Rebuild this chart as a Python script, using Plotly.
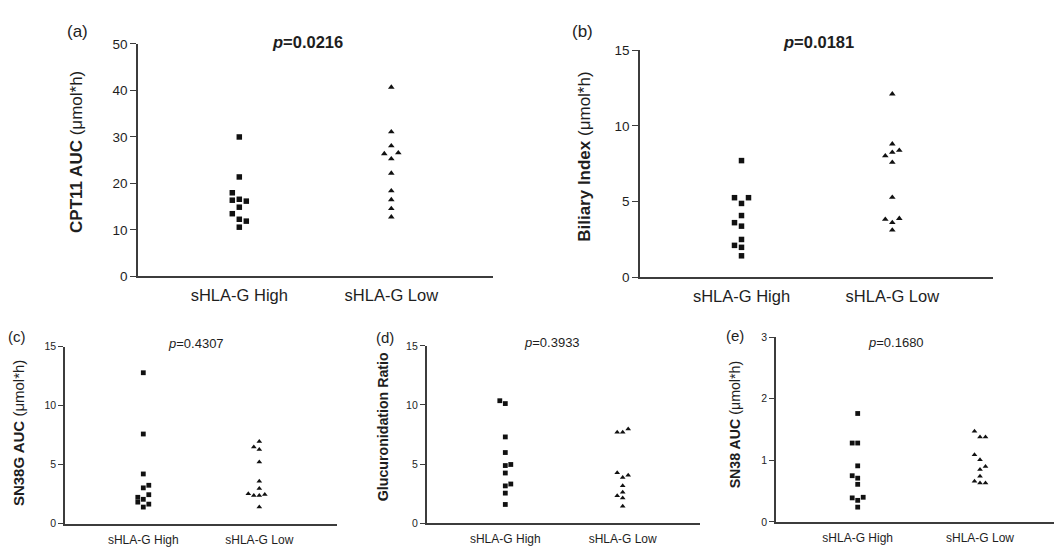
import plotly.graph_objects as go

W, H = 1054, 552
FONT = "Liberation Sans, Arial, sans-serif"
TXT = "#1e1e1e"
AX = "#3c3c3c"

categories = ["sHLA-G High", "sHLA-G Low"]

# ---- data; *_slot = horizontal scatter slot used by the original dot plot
a_high = [30.0, 21.4, 18.0, 16.6, 16.4, 16.2, 14.9, 13.5, 12.3, 11.9, 10.6]
a_high_slot = [0, 0, -1, 0, -1, 1, 0, -1, 0, 1, 0]
a_low = [40.7, 31.1, 28.1, 26.6, 26.4, 25.3, 22.2, 18.4, 16.5, 14.6, 12.8]
a_low_slot = [0, 0, 0, 1, -1, 0, 0, 0, 0, 0, 0]

b_high = [7.7, 5.25, 5.25, 4.87, 4.07, 3.6, 3.37, 2.49, 2.1, 1.97, 1.41]
b_high_slot = [0, -1, 1, 0, 0, -1, 0, 0, -1, 0, 0]
b_low = [12.1, 8.8, 8.38, 8.25, 8.01, 7.58, 5.27, 3.88, 3.82, 3.6, 3.11]
b_low_slot = [0, 0, 1, 0, -1, 0, 0, 1, -1, 0, 0]

c_high = [12.8, 7.6, 4.21, 3.25, 3.03, 2.45, 2.23, 2.06, 1.82, 1.65, 1.40]
c_high_slot = [0, 0, 0, 1, 0, 1, -1, 0, -1, 1, 0]
c_low = [6.96, 6.5, 6.28, 5.23, 3.6, 2.97, 2.53, 2.47, 2.39, 2.39, 1.40]
c_low_slot = [0, -1, 0, 0, 0, 0, -2, 1, -1, 0, 0]

d_high = [10.36, 10.12, 7.3, 5.98, 4.97, 4.88, 4.25, 3.32, 3.16, 2.55, 1.59]
d_high_slot = [-1, 0, 0, 0, 1, 0, 0, 1, 0, 0, 0]
d_low = [7.98, 7.7, 7.7, 4.28, 4.06, 3.87, 3.18, 2.63, 2.33, 2.14, 1.43]
d_low_slot = [1, -1, 0, -1, 1, 0, 0, 0, -1, 0, 0]

e_high = [1.76, 1.28, 1.28, 0.91, 0.75, 0.71, 0.61, 0.40, 0.39, 0.35, 0.24]
e_high_slot = [0, -1, 0, 0, -1, 0, 0, 1, -1, 0, 0]
e_low = [1.47, 1.38, 1.38, 1.09, 1.01, 0.90, 0.85, 0.74, 0.66, 0.63, 0.63]
e_low_slot = [-1, 0, 1, -1, 0, 1, 0, 0, -1, 0, 1]

y_titles = ["<b>CPT11 AUC</b> (\u03bcmol*h)", "<b>Biliary Index</b> (\u03bcmol*h)",
            "<b>SN38G AUC</b> (\u03bcmol*h)", "<b>Glucuronidation Ratio</b>",
            "<b>SN38 AUC</b> (\u03bcmol*h)"]
p_values = ["0.0216", "0.0181", "0.4307", "0.3933", "0.1680"]
letters = ["(a)", "(b)", "(c)", "(d)", "(e)"]
y_ticks = [[0, 10, 20, 30, 40, 50], [0, 5, 10, 15], [0, 5, 10, 15], [0, 5, 10, 15], [0, 1, 2, 3]]
y_max = [50, 15, 15, 15, 3]

# ---- layout geometry (pixels in the 1054x552 page)
panels = [
    dict(x0=138, x1=493, yt=38, yb=277, ph=239.3, pl=391.3, slot=7.0, big=True,
         data=(a_high, a_high_slot, a_low, a_low_slot),
         ytit=(77, 149, 17), pv=(307, 36), let=(77, 25)),
    dict(x0=640, x1=993, yt=44.3, yb=277.7, ph=741.5, pl=892.3, slot=7.0, big=True,
         data=(b_high, b_high_slot, b_low, b_low_slot),
         ytit=(585, 154, 17), pv=(818, 36), let=(582, 25)),
    dict(x0=65, x1=337, yt=349.3, yb=531, ph=143.3, pl=259.3, slot=5.5, big=False,
         data=(c_high, c_high_slot, c_low, c_low_slot),
         ytit=(18, 438, 15), pv=(196, 346), let=(17, 339)),
    dict(x0=426.7, x1=700, yt=348.3, yb=530.7, ph=505.3, pl=622.7, slot=5.5, big=False,
         data=(d_high, d_high_slot, d_low, d_low_slot),
         ytit=(383, 432, 14.2), pv=(552, 345), let=(385, 340)),
    dict(x0=776, x1=1054, yt=339.3, yb=529.3, ph=857.7, pl=980.0, slot=5.5, big=False,
         data=(e_high, e_high_slot, e_low, e_low_slot),
         ytit=(735, 429, 14.2), pv=(896, 345), let=(735, 338)),
]

fig = go.Figure()
annotations = []
layout = {}

for i, p in enumerate(panels):
    n = "" if i == 0 else str(i + 1)
    ppu = p["pl"] - p["ph"]
    xr = [(p["x0"] - p["ph"]) / ppu, (p["x1"] - p["ph"]) / ppu]
    dx = p["slot"] / ppu
    hi, hs, lo, ls = p["data"]
    big = p["big"]
    msize_sq = 5.5 if big else 4.8
    msize_tr = 5.8 if big else 5.0
    fig.add_trace(go.Scatter(
        x=[0 + s * dx for s in hs], y=hi, mode="markers",
        marker=dict(symbol="square", size=msize_sq, color="#111111"),
        xaxis="x" + n, yaxis="y" + n, showlegend=False, cliponaxis=False))
    fig.add_trace(go.Scatter(
        x=[1 + s * dx for s in ls], y=lo, mode="markers",
        marker=dict(symbol="triangle-up", size=msize_tr, color="#111111"),
        xaxis="x" + n, yaxis="y" + n, showlegend=False, cliponaxis=False))

    layout["xaxis" + n] = dict(
        domain=[p["x0"] / W, p["x1"] / W], range=xr, anchor="y" + n,
        showline=True, linecolor=AX, linewidth=1.6, showgrid=False, zeroline=False,
        tickvals=[0, 1], ticktext=categories, ticks="",
        ticklabelstandoff=3 if big else 4,
        tickfont=dict(family=FONT, size=16.5 if big else 12, color=TXT),
        fixedrange=True)
    layout["yaxis" + n] = dict(
        domain=[1 - p["yb"] / H, 1 - p["yt"] / H], range=[0, y_max[i]], anchor="x" + n,
        showline=True, linecolor=AX, linewidth=1.6, showgrid=False, zeroline=False,
        tickvals=y_ticks[i], ticks="outside", ticklen=6 if big else 5,
        tickwidth=1.3, tickcolor=AX,
        tickfont=dict(family=FONT, size=13.5 if big else 10.5, color=TXT),
        fixedrange=True)

    tx, ty, tfs = p["ytit"]
    annotations.append(dict(text=y_titles[i], x=tx / W, y=1 - ty / H, xref="paper", yref="paper",
                            showarrow=False, textangle=-90, xanchor="center", yanchor="middle",
                            font=dict(family=FONT, size=tfs, color=TXT)))
    px_, py_ = p["pv"]
    ptxt = ("<b><i>p</i>=%s</b>" if big else "<i>p</i>=%s") % p_values[i]
    annotations.append(dict(text=ptxt, x=px_ / W, y=1 - py_ / H, xref="paper", yref="paper",
                            showarrow=False, xanchor="center", yanchor="middle",
                            font=dict(family=FONT, size=16.5 if big else 13, color=TXT)))
    lx, ly = p["let"]
    annotations.append(dict(text=letters[i], x=lx / W, y=1 - ly / H, xref="paper", yref="paper",
                            showarrow=False, xanchor="center", yanchor="middle",
                            font=dict(family=FONT, size=17 if big else 15, color=TXT)))

fig.update_layout(
    width=W, height=H, margin=dict(l=0, r=0, t=0, b=0),
    paper_bgcolor="white", plot_bgcolor="white",
    annotations=annotations, showlegend=False,
    **layout)

fig.write_html("out.html", config={"displayModeBar": False})
